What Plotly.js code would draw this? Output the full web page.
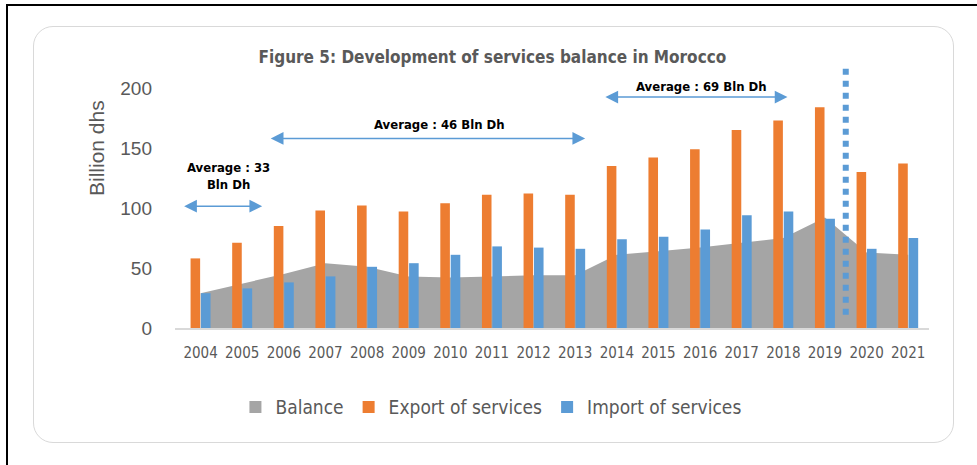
<!DOCTYPE html>
<html>
<head>
<meta charset="utf-8">
<script src="https://cdn.plot.ly/plotly-3.0.1.min.js"></script>
<style>
  body { margin: 0; background: #fff; }
  #wrap { position: relative; width: 977px; height: 465px; overflow: hidden; }
  #edge { position: absolute; left: 6px; top: 4px; width: 980px; height: 470px;
          border-top: 2px solid #000; border-left: 2px solid #000; }
  #frame { position: absolute; left: 33px; top: 26px; width: 919px; height: 415px;
           border: 1.5px solid #d9d9d9; border-radius: 20px; }
  #chart { position: absolute; left: 0; top: 0; width: 977px; height: 465px; }
</style>
</head>
<body>
<div id="wrap">
  <div id="edge"></div>
  <div id="frame"></div>
  <div id="chart"></div>
</div>
<script>
var years = ['2004', '2005', '2006', '2007', '2008', '2009', '2010', '2011', '2012',
  '2013', '2014', '2015', '2016', '2017', '2018', '2019', '2020', '2021'];
var exportServices = [58, 71, 85, 98, 102, 97, 104, 111, 112, 111, 135, 142, 149, 165, 173, 184, 130, 137];
var importServices = [29, 33, 38, 43, 51, 54, 61, 68, 67, 66, 74, 76, 82, 94, 97, 91, 66, 75];
var balance = [29, 37, 45, 54, 51, 43, 42, 43, 44, 44, 61, 64, 67, 71, 75, 92, 63, 61];

var narrow = 'Liberation Sans Narrow, DejaVu Sans Condensed, sans-serif';
var tickFont = {family: narrow, size: 15, color: '#595959'};

// area drawn on the base axis, bars on the overlaying one so they sit on top
var trace1 = {
  x: years,
  y: balance,
  name: 'Balance',
  type: 'scatter',
  mode: 'lines',
  fill: 'tozeroy',
  fillcolor: '#a5a5a5',
  line: {width: 0, color: '#a5a5a5'},
  legendgroup: 'bal',
  showlegend: false
};

// legend key only (square swatch like the original)
var balanceKey = {
  x: [years[0]],
  y: [null],
  name: 'Balance',
  type: 'bar',
  legendgroup: 'bal',
  hoverinfo: 'skip',
  marker: {color: '#a5a5a5'}
};

var trace2 = {
  x: years,
  y: exportServices,
  name: 'Export of services',
  type: 'bar',
  yaxis: 'y2',
  marker: {color: '#ed7d31'}
};

var trace3 = {
  x: years,
  y: importServices,
  name: 'Import of services',
  type: 'bar',
  yaxis: 'y2',
  marker: {color: '#5b9bd5'}
};

var arrow = {
  xref: 'x', yref: 'y', axref: 'x', ayref: 'y',
  text: '', showarrow: true,
  arrowside: 'end+start',
  arrowhead: 2, startarrowhead: 2,
  arrowsize: 1.7, startarrowsize: 1.7,
  arrowwidth: 1.5, arrowcolor: '#5b9bd5',
  standoff: 0, startstandoff: 0
};

function avgArrow(x0, x1, y) {
  return Object.assign({}, arrow, {x: x1, y: y, ax: x0, ay: y});
}

var labelFont = {family: narrow, size: 13, color: '#000', weight: 'bold'};

var layout = {
  width: 977,
  height: 465,
  paper_bgcolor: 'rgba(0,0,0,0)',
  plot_bgcolor: 'rgba(0,0,0,0)',
  margin: {l: 175, r: 48, t: 64, b: 137},
  title: {
    text: '<b>Figure 5: Development of services balance in Morocco</b>',
    font: {family: narrow, size: 17, color: '#595959'},
    x: 0.504, xanchor: 'center',
    y: 0.877, yanchor: 'middle', yref: 'container'
  },
  barmode: 'group',
  bargap: 0.5,
  bargroupgap: 0.08,
  showlegend: true,
  legend: {
    orientation: 'h',
    x: 0.419, xanchor: 'center',
    y: -0.3, yanchor: 'middle',
    font: {family: narrow, size: 19, color: '#595959'},
    itemwidth: 30
  },
  xaxis: {
    type: 'category',
    tickfont: tickFont,
    showline: true,
    linecolor: '#d9d9d9',
    linewidth: 2,
    ticks: '',
    ticklabelstandoff: 10,
    showgrid: false,
    zeroline: false
  },
  yaxis: {
    range: [0, 220],
    tickvals: [0, 50, 100, 150, 200],
    tickfont: {family: 'Liberation Sans, Arial, sans-serif', size: 19, color: '#595959'},
    ticklabelstandoff: 22,
    showgrid: false,
    zeroline: false
  },
  yaxis2: {
    range: [0, 220],
    overlaying: 'y',
    visible: false
  },
  shapes: [{
    type: 'line',
    xref: 'x', yref: 'y',
    x0: 15.5, x1: 15.5, y0: 11, y1: 216,
    line: {color: '#5b9bd5', width: 6, dash: '6px,6px'}
  }],
  annotations: [
    {xref: 'paper', yref: 'paper', x: -0.1034, y: 0.682, xanchor: 'center', yanchor: 'middle',
     text: 'Billion dhs', textangle: -90,
     showarrow: false, font: {family: 'Liberation Sans, Arial, sans-serif', size: 21, color: '#595959'}},
    avgArrow(-0.43, 1.48, 101.5),
    avgArrow(1.65, 9.24, 158),
    avgArrow(9.69, 14.1, 192.5),
    {xref: 'x', yref: 'y', x: 0.67, y: 127, text: 'Average : 33<br>Bln Dh', showarrow: false, font: labelFont},
    {xref: 'x', yref: 'y', x: 5.73, y: 170, text: 'Average : 46 Bln Dh', showarrow: false, font: labelFont},
    {xref: 'x', yref: 'y', x: 12.03, y: 201, text: 'Average : 69 Bln Dh', showarrow: false, font: labelFont}
  ]
};

Plotly.newPlot('chart', [trace1, balanceKey, trace2, trace3], layout, {displayModeBar: false});
</script>
</body>
</html>
